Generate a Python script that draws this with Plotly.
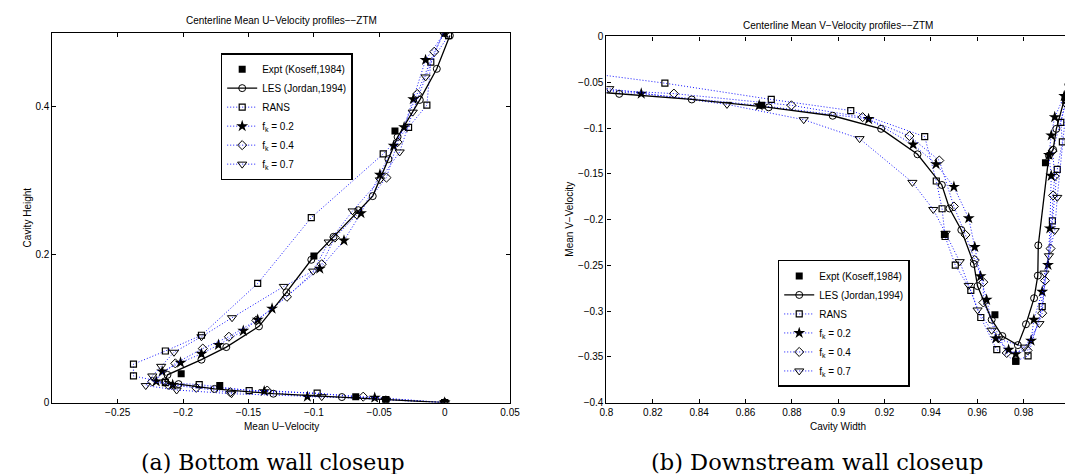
import plotly.graph_objects as go

# ---------------- Left panel: Mean U-velocity (x) vs cavity height (y) ----------------
expt_u = [0, -0.045, -0.068, -0.172, -0.2015, -0.100, -0.038]
expt_y = [0, 0.0035, 0.008, 0.023, 0.039, 0.198, 0.367]

les_u = [0, -0.045, -0.0786, -0.131, -0.176, -0.2035, -0.214, -0.212, -0.186, -0.167, -0.142,
         -0.121, -0.102, -0.085, -0.066, -0.055, -0.043, -0.036, -0.019, -0.006, 0.004]
les_y = [0, 0.004, 0.0075, 0.012, 0.0185, 0.025, 0.0287, 0.0375, 0.058, 0.075, 0.103,
         0.149, 0.193, 0.224, 0.260, 0.279, 0.329, 0.359, 0.409, 0.451, 0.496]

rans_u = [0, -0.045, -0.0975, -0.1495, -0.1877, -0.2136, -0.238, -0.238, -0.2136, -0.186,
          -0.143, -0.102, -0.047, -0.0276, -0.0136, -0.0106, 0.003]
rans_y = [0, 0.004, 0.0128, 0.0163, 0.0243, 0.027, 0.036, 0.052, 0.0697, 0.091,
          0.161, 0.25, 0.336, 0.372, 0.402, 0.46, 0.496]

f2_u = [0, -0.0535, -0.105, -0.138, -0.208, -0.2206, -0.216, -0.202, -0.186, -0.173, -0.154,
        -0.143, -0.132, -0.0955, -0.077, -0.064, -0.0495, -0.039, -0.031, -0.024, -0.0146, 0.0]
f2_y = [0, 0.0066, 0.008, 0.0154, 0.024, 0.0287, 0.042, 0.054, 0.066, 0.078, 0.097,
        0.112, 0.127, 0.181, 0.219, 0.256, 0.308, 0.347, 0.372, 0.41, 0.463, 0.5]

f4_u = [0, -0.0623, -0.1357, -0.164, -0.19, -0.2115, -0.2236, -0.206, -0.185, -0.165, -0.144,
        -0.1206, -0.094, -0.084, -0.067, -0.0445, -0.036, -0.021, -0.008, 0.0]
f4_y = [0, 0.008, 0.0163, 0.014, 0.02, 0.024, 0.0287, 0.053, 0.073, 0.089, 0.111,
        0.143, 0.187, 0.223, 0.254, 0.304, 0.352, 0.417, 0.474, 0.5]

f7_u = [0, -0.045, -0.094, -0.163, -0.205, -0.2286, -0.2236, -0.2168, -0.207, -0.186, -0.1626,
        -0.123, -0.1005, -0.0887, -0.0704, -0.0495, -0.0344, -0.0244, -0.0146, -0.0013]
f7_y = [0, 0.0035, 0.008, 0.012, 0.017, 0.023, 0.036, 0.049, 0.068, 0.089, 0.1147,
        0.157, 0.1777, 0.217, 0.259, 0.301, 0.3387, 0.3925, 0.44, 0.4997]

# ---------------- Right panel: cavity width (x) vs mean V-velocity (y) ----------------
expt_x = [0.867, 0.9458, 0.9676, 0.9766, 0.9894, 0.9979]
expt_v = [-0.0752, -0.2164, -0.3041, -0.3547, -0.138, -0.0667]

les_x = [0.795, 0.8055, 0.8368, 0.870, 0.8976, 0.9185, 0.9342, 0.9447, 0.948, 0.9531, 0.9585,
         0.9601, 0.9662, 0.9708, 0.9775, 0.981, 0.9845, 0.9861, 0.9863, 0.9909, 0.9927, 0.9941, 0.9993]
les_v = [-0.0605, -0.0627, -0.0688, -0.0774, -0.0866, -0.1009, -0.1287, -0.1622, -0.1879, -0.2114, -0.2485,
         -0.2727, -0.3094, -0.3273, -0.3372, -0.3144, -0.2859, -0.2613, -0.2282, -0.1301, -0.1237, -0.1009, -0.0524]

rans_x = [0.795, 0.8252, 0.8711, 0.9054, 0.9373, 0.9423, 0.9448, 0.9461, 0.9505, 0.9572, 0.9615,
          0.9684, 0.9766, 0.9819, 0.988, 0.9924, 0.9945, 0.9967, 0.996, 0.9982]
rans_v = [-0.041, -0.051, -0.0688, -0.0809, -0.1094, -0.1579, -0.1882, -0.2185, -0.2499, -0.2774, -0.307,
          -0.3422, -0.3547, -0.349, -0.2952, -0.2014, -0.1451, -0.1152, -0.0938, -0.0688]

f2_x = [0.795, 0.815, 0.8659, 0.9131, 0.9323, 0.9422, 0.9499, 0.9563, 0.9589, 0.9614, 0.964, 0.968,
        0.9735, 0.9766, 0.9832, 0.9844, 0.988, 0.9905, 0.9913, 0.9919, 0.9909, 0.9919, 0.9934, 0.9975]
f2_v = [-0.059, -0.0624, -0.0752, -0.0902, -0.118, -0.1394, -0.1643, -0.1986, -0.23, -0.262, -0.2877, -0.3298,
        -0.3422, -0.347, -0.3323, -0.3094, -0.2788, -0.2496, -0.2096, -0.1522, -0.1294, -0.108, -0.0881, -0.065]

f4_x = [0.795, 0.8291, 0.8798, 0.9105, 0.9307, 0.9436, 0.9499, 0.9549, 0.9589, 0.9626, 0.9626,
        0.9727, 0.9817, 0.988, 0.9892, 0.9916, 0.9927, 0.9934, 0.9925, 0.9985]
f4_v = [-0.058, -0.0624, -0.0752, -0.0881, -0.1087, -0.1355, -0.1857, -0.2168, -0.2442, -0.2684, -0.2906,
        -0.3458, -0.343, -0.3023, -0.2667, -0.2317, -0.1736, -0.1526, -0.125, -0.07]

f7_x = [0.795, 0.8012, 0.852, 0.8851, 0.9092, 0.932, 0.941, 0.9463, 0.9524, 0.9563, 0.9601,
        0.9662, 0.9691, 0.9804, 0.9868, 0.989, 0.9909, 0.9934, 0.9945, 0.9985]
f7_v = [-0.055, -0.057, -0.0742, -0.0909, -0.1116, -0.1594, -0.189, -0.215, -0.246, -0.272, -0.2988,
        -0.3209, -0.3305, -0.3394, -0.3137, -0.2585, -0.2396, -0.2121, -0.1758, -0.075]

series_names = ["Expt (Koseff,1984)", "LES (Jordan,1994)", "RANS",
                "f<sub>k</sub> = 0.2", "f<sub>k</sub> = 0.4", "f<sub>k</sub> = 0.7"]

left_title = "Centerline Mean U\u2212Velocity profiles\u2212\u2212ZTM"
right_title = "Centerline Mean V\u2212Velocity profiles\u2212\u2212ZTM"
captions = ["(a) Bottom wall closeup", "(b) Downstream wall closeup"]

W, H = 1073, 474
BLUE = "rgb(20,20,255)"
DOT = "1px,2px"
FONT = "Liberation Sans, Arial, Helvetica, sans-serif"

styles = [
    dict(mode="markers", marker=dict(symbol="square", size=7, color="black", line=dict(width=0))),
    dict(mode="lines+markers", line=dict(color="black", width=1.3),
         marker=dict(symbol="circle-open", size=7, color="black", line=dict(width=1))),
    dict(mode="lines+markers", line=dict(color=BLUE, width=1, dash=DOT),
         marker=dict(symbol="square-open", size=6, color="black", line=dict(width=1.2))),
    dict(mode="lines+markers", line=dict(color=BLUE, width=1, dash=DOT),
         marker=dict(symbol="star", size=9, color="black", line=dict(width=0))),
    dict(mode="lines+markers", line=dict(color=BLUE, width=1, dash=DOT),
         marker=dict(symbol="diamond-open", size=7, color="black", line=dict(width=1))),
    dict(mode="lines+markers", line=dict(color=BLUE, width=1, dash=DOT),
         marker=dict(symbol="triangle-down-open", size=8, color="black", line=dict(width=1))),
]

left_data = [(expt_u, expt_y), (les_u, les_y), (rans_u, rans_y),
             (f2_u, f2_y), (f4_u, f4_y), (f7_u, f7_y)]
right_data = [(expt_x, expt_v), (les_x, les_v), (rans_x, rans_v),
              (f2_x, f2_v), (f4_x, f4_v), (f7_x, f7_v)]

fig = go.Figure()
order = [2, 3, 4, 5, 1, 0]
for i in order:
    xs, ys = left_data[i]
    fig.add_trace(go.Scatter(x=xs, y=ys, name=series_names[i], xaxis="x", yaxis="y",
                             legend="legend", legendrank=i + 1, **styles[i]))
for i in order:
    xs, ys = right_data[i]
    fig.add_trace(go.Scatter(x=xs, y=ys, name=series_names[i], xaxis="x2", yaxis="y2",
                             legend="legend2", legendrank=i + 1, **styles[i]))

# panel pixel boxes
L = dict(x0=38, x1=503, y0=20, y1=398)
R = dict(x0=601, x1=1072, y0=24, y1=398)

def dom_x(b):
    return [b["x0"] / W, b["x1"] / W]

def dom_y(b):
    return [1 - b["y1"] / H, 1 - b["y0"] / H]

axis_common = dict(showline=True, linecolor="black", linewidth=1.2, mirror="ticks",
                   ticks="inside", ticklen=4, tickcolor="black", tickwidth=1,
                   showgrid=False, zeroline=False,
                   tickfont=dict(family=FONT, size=10, color="black"))

legend_common = dict(bgcolor="white", bordercolor="black", borderwidth=1.5,
                     font=dict(family=FONT, size=10, color="black"),
                     itemwidth=30, tracegroupgap=0)

fig.update_layout(
    width=W, height=H,
    margin=dict(l=0, r=0, t=0, b=0),
    paper_bgcolor="white", plot_bgcolor="white",
    xaxis=dict(domain=dom_x(L), range=[-0.3, 0.05], anchor="y",
               tickvals=[-0.25, -0.2, -0.15, -0.1, -0.05, 0, 0.05], **axis_common),
    yaxis=dict(domain=dom_y(L), range=[0, 0.5], anchor="x",
               tickvals=[0, 0.2, 0.4], **axis_common),
    xaxis2=dict(domain=dom_x(R), range=[0.8, 1.0], anchor="y2",
                tick0=0.8, dtick=0.02, **axis_common),
    yaxis2=dict(domain=dom_y(R), range=[-0.4, 0], anchor="x2",
                tick0=-0.4, dtick=0.05, **axis_common),
    legend=dict(x=209 / W, y=1 - 41 / H, xanchor="left", yanchor="top", **legend_common),
    legend2=dict(x=775 / W, y=1 - 382 / H, xanchor="left", yanchor="bottom", **legend_common),
)

ann = []
def txt(x, y, s, size=10, family=FONT, angle=0):
    ann.append(dict(x=x / W, y=1 - y / H, xref="paper", yref="paper", text=s, showarrow=False,
                    xanchor="center", yanchor="middle", textangle=angle,
                    font=dict(family=family, size=size, color="black")))

txt((L["x0"] + L["x1"]) / 2, 8, left_title, size=10)
txt((R["x0"] + R["x1"]) / 2, 13, right_title, size=10)
txt((L["x0"] + L["x1"]) / 2, 422, "Mean U\u2212Velocity", size=10)
txt((R["x0"] + R["x1"]) / 2, 422, "Cavity Width", size=10)
txt(13, (L["y0"] + L["y1"]) / 2, "Cavity Height", size=10, angle=-90)
txt(563, (R["y0"] + R["y1"]) / 2, "Mean V\u2212Velocity", size=10, angle=-90)
txt(262, 459, captions[0], size=22, family="DejaVu Serif, serif")
txt(815, 459, captions[1], size=22.5, family="DejaVu Serif, serif")
fig.update_layout(annotations=ann)

fig.write_html("out.html")
